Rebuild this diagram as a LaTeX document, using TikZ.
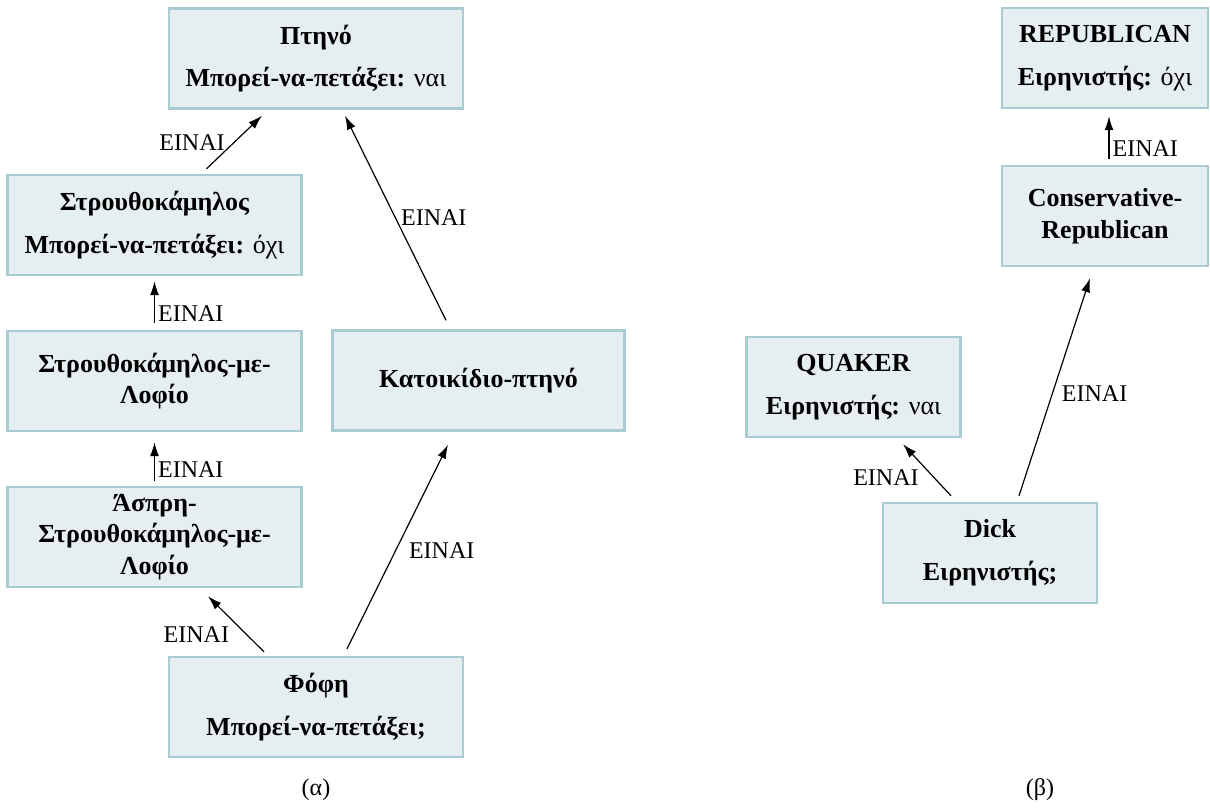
\documentclass[tikz,border=0pt]{standalone}
\usepackage{fontspec}
\setmainfont{Liberation Serif}
\usepackage{tikz}
\usetikzlibrary{arrows,arrows.meta,positioning}

\definecolor{boxfill}{HTML}{E5EEF0}
\definecolor{boxline}{HTML}{A9CBD2}

\tikzset{
  concept/.style={draw=boxline, fill=boxfill, line width=1.2pt, minimum height=50pt,
    align=center, inner sep=2pt, font=\fontsize{13}{15.8}\selectfont\bfseries},
  isa/.style={font=\fontsize{12}{14}\selectfont, inner sep=1.5pt}
}

\begin{document}
\begin{tikzpicture}[x=0.5pt,y=-0.5pt,>={Latex[length=7pt,width=4.5pt]}]
\useasboundingbox (0,0) rectangle (1210,810);
% (α)
\node[concept,minimum width=147pt] (bird) at (316,58.5) {Πτηνό\\[5.5pt]Μπορεί-να-πετάξει: \mdseries ναι};
\node[concept,minimum width=147pt] (ostrich) at (154.5,225) {Στρουθοκάμηλος\\[5.5pt]Μπορεί-να-πετάξει: \mdseries όχι};
\node[concept,minimum width=147pt] (crested) at (154.5,381) {Στρουθοκάμηλος-με-\\Λοφίο};
\node[concept,minimum width=147pt] (white) at (154.5,537) {Άσπρη-\\Στρουθοκάμηλος-με-\\Λοφίο};
\node[concept,minimum width=146pt] (pet) at (478.5,380.5) {Κατοικίδιο-πτηνό};
\node[concept,minimum width=147pt] (fofi) at (316,707) {Φόφη\\[5.5pt]Μπορεί-να-πετάξει;};
\node (capa) at (316,790) {\fontsize{12}{14}\selectfont(α)};
% (β)
\node[concept,minimum width=103pt] (republican) at (1105,58) {REPUBLICAN\\[5.5pt]Ειρηνιστής: \mdseries όχι};
\node[concept,minimum width=103pt] (conserv) at (1105,216) {Conservative-\\Republican};
\node[concept,minimum width=107pt] (quaker) at (853.5,387) {QUAKER\\[5.5pt]Ειρηνιστής: \mdseries ναι};
\node[concept,minimum width=107pt] (dick) at (990,553) {Dick\\[5.5pt]Ειρηνιστής;};
\node (capb) at (1040,790) {\fontsize{12}{14}\selectfont(β)};

\path[->,line width=0.6pt] ([xshift=26pt,yshift=2.5pt]ostrich.north) edge node[isa,pos=0.5,left,xshift=-3pt]{ΕΙΝΑΙ} ([xshift=-27pt,yshift=-3pt]bird.south);
\path[->,line width=0.6pt,shorten <=3.5pt,shorten >=2.5pt] (crested.north) edge node[isa,pos=0.3,right]{ΕΙΝΑΙ} (ostrich.south);
\path[->,line width=0.6pt,shorten <=2.5pt,shorten >=5pt] (white.north) edge node[isa,pos=0.3,right]{ΕΙΝΑΙ} (crested.south);
\path[->,line width=0.6pt] ([xshift=-26pt,yshift=2pt]fofi.north) edge node[isa,pos=0.31,left,xshift=-7pt]{ΕΙΝΑΙ} ([xshift=26.75pt,yshift=-4pt]white.south);
\path[->,line width=0.6pt] ([xshift=15.5pt,yshift=3.5pt]fofi.north) edge node[isa,pos=0.48,right,xshift=5pt]{ΕΙΝΑΙ} ([xshift=-15.25pt,yshift=-6.5pt]pet.south);
\path[->,line width=0.6pt] ([xshift=-16.25pt,yshift=4.5pt]pet.north) edge node[isa,pos=0.5,right,xshift=1pt]{ΕΙΝΑΙ} ([xshift=14.5pt,yshift=-3pt]bird.south);
\path[->,line width=0.6pt,shorten <=3pt,shorten >=3.5pt] ([xshift=2pt]conserv.north) edge node[isa,pos=0.29,right]{ΕΙΝΑΙ} ([xshift=2pt]republican.south);
\path[->,line width=0.6pt] ([xshift=-19.5pt,yshift=3pt]dick.north) edge node[isa,pos=0.35,left,xshift=-6pt]{ΕΙΝΑΙ} ([xshift=24.75pt,yshift=-3pt]quaker.south);
\path[->,line width=0.6pt] ([xshift=14.5pt,yshift=3pt]dick.north) edge node[isa,pos=0.47,right,xshift=3pt]{ΕΙΝΑΙ} ([xshift=-7.5pt,yshift=-5.5pt]conserv.south);
\end{tikzpicture}
\end{document}
